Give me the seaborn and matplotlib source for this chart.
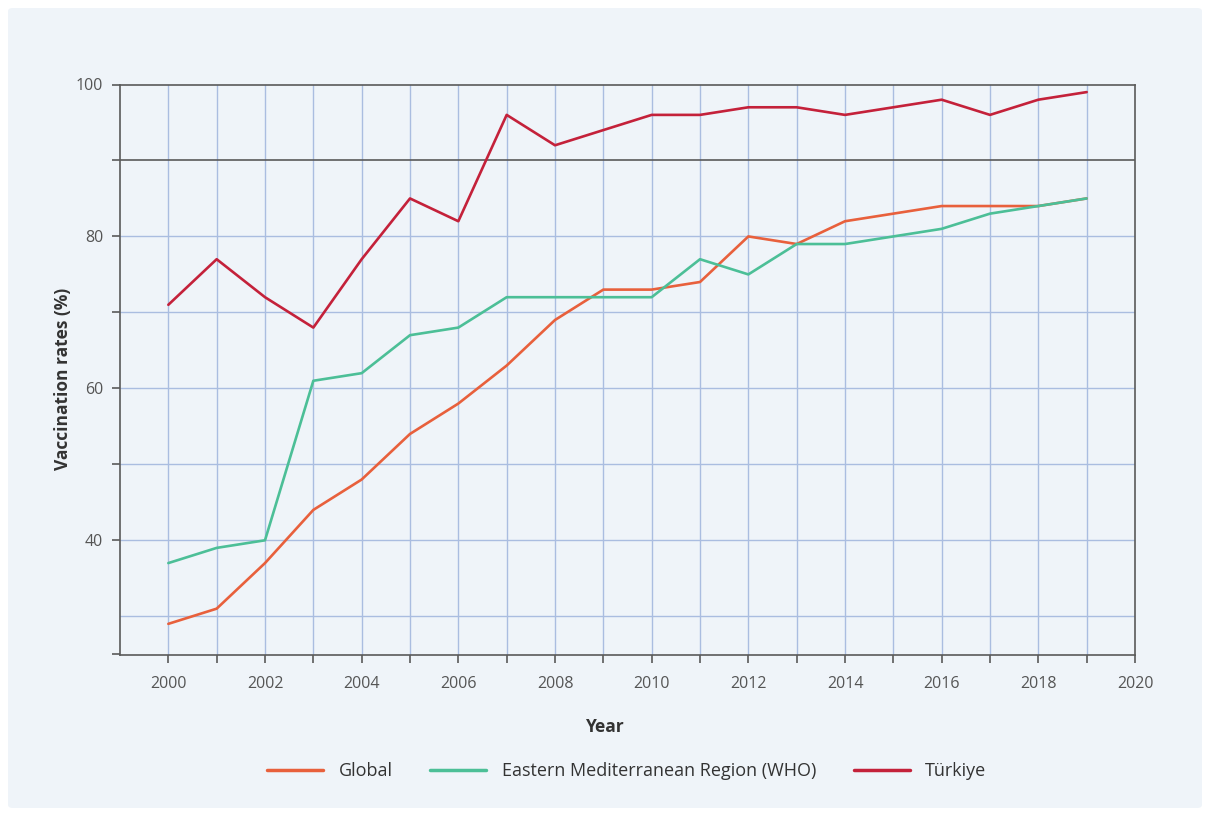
import pandas as pd
import numpy as np
import matplotlib
matplotlib.use("Agg")
import matplotlib.pyplot as plt
import seaborn as sns
from matplotlib.patches import FancyBboxPatch
from matplotlib.lines import Line2D

# data
years = list(range(2000, 2020))
global_rates = [29, 31, 37, 44, 48, 54, 58, 63, 69, 73, 73, 74, 80, 79, 82, 83, 84, 84, 84, 85]
emr_rates = [37, 39, 40, 61, 62, 67, 68, 72, 72, 72, 72, 77, 75, 79, 79, 80, 81, 83, 84, 85]
turkiye_rates = [71, 77, 72, 68, 77, 85, 82, 96, 92, 94, 96, 96, 97, 97, 96, 97, 98, 96, 98, 99]

series_names = ['Global', 'Eastern Mediterranean Region (WHO)', 'Türkiye']
colors = ['#e8603c', '#4cbf97', '#c4213a']

df = pd.DataFrame({
    'Year': years * 3,
    'Rate': global_rates + emr_rates + turkiye_rates,
    'Series': [series_names[0]] * 20 + [series_names[1]] * 20 + [series_names[2]] * 20,
})

sns.set_style('white')
plt.rcParams['font.family'] = ['Open Sans', 'DejaVu Sans']

bg = '#eff4f9'
fig = plt.figure(figsize=(12.1, 8.16), dpi=100)
fig.patch.set_facecolor('white')
panel = FancyBboxPatch((8 / 1210, 8 / 816), 1 - 16 / 1210, 1 - 16 / 816,
                       boxstyle='round,pad=0,rounding_size=0.004',
                       transform=fig.transFigure, facecolor=bg,
                       edgecolor='none', zorder=-10)
fig.patches.append(panel)

ax = fig.add_axes([120 / 1210, 1 - 655 / 816, 1015 / 1210, (655 - 84.5) / 816])
ax.set_zorder(5)
ax.set_facecolor(bg)

sns.lineplot(data=df, x='Year', y='Rate', hue='Series', palette=dict(zip(series_names, colors)),
             linewidth=1.9, ax=ax, legend=False, zorder=3)

ax.set_xlim(1999, 2020)
ax.set_ylim(24.9, 100)

# vertical grid each year, labels every other year
ax.set_xticks(range(2000, 2021))
ax.set_xticklabels([str(y) if y % 2 == 0 else '' for y in range(2000, 2021)])
ax.set_yticks([25, 40, 50, 60, 70, 80, 90, 100])
ax.set_yticklabels(['', '40', '', '60', '', '80', '', '100'])

grid_color = '#aabde0'
for y in range(2000, 2020):
    ax.axvline(y, color=grid_color, lw=1, zorder=1)
for v in [30, 40, 50, 60, 70, 80]:
    ax.axhline(v, color=grid_color, lw=1, zorder=1)
ax.axhline(90, color='#5a5a5a', lw=1.2, zorder=2)

for s in ax.spines.values():
    s.set_color('#5a5a5a')
    s.set_linewidth(1.2)

ax.tick_params(axis='both', bottom=True, left=True, direction='out', length=6, width=1.2,
               color='#5a5a5a', labelcolor='#555555', labelsize=11.5, pad=6)
ax.tick_params(axis='x', pad=9)

ax.set_xlabel('Year', fontsize=12.5, fontweight='bold', color='#333333')
ax.set_ylabel('Vaccination rates (%)', fontsize=12.5, fontweight='bold', color='#333333')
ax.xaxis.set_label_coords(0.478, -0.111)
ax.yaxis.set_label_coords(-0.047, 0.484)

handles = [Line2D([0], [0], color=c, lw=2.5) for c in colors]
fig.legend(handles, series_names, loc='center', bbox_to_anchor=(0.518, 1 - 771 / 816),
           ncol=3, frameon=False, fontsize=13, handlelength=3.1, columnspacing=2.1,
           handletextpad=0.85, labelcolor='#333333')

fig.savefig('out.png', dpi=100, facecolor='white')
